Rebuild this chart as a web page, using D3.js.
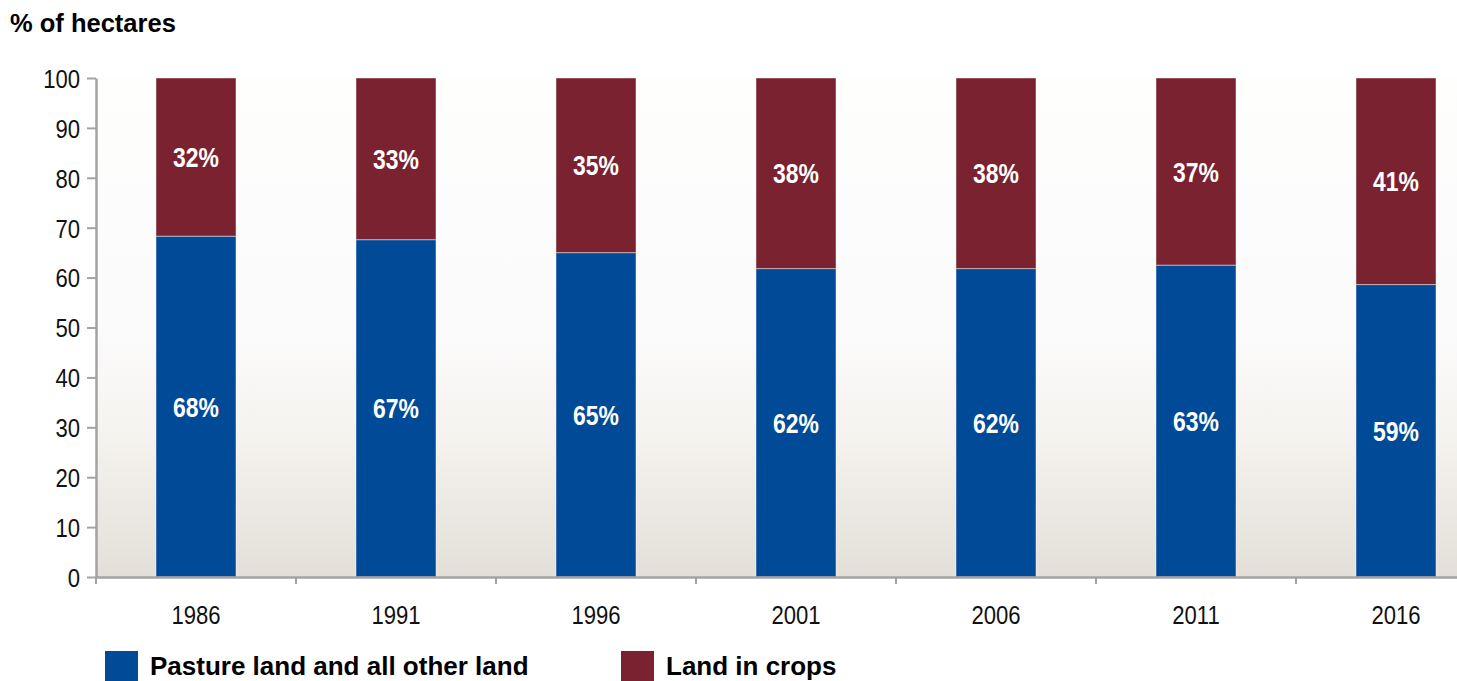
<!DOCTYPE html>
<html>
<head>
<meta charset="utf-8">
<script src="https://cdn.jsdelivr.net/npm/d3@7"></script>
<style>
  html, body { margin: 0; padding: 0; background: #ffffff; }
  svg { display: block; }
</style>
</head>
<body>
<svg id="chart" width="1457" height="681"></svg>
<script>
// ---- Data ----
const years = ["1986", "1991", "1996", "2001", "2006", "2011", "2016"];
const pasture = [68.3, 67.6, 65.0, 61.8, 61.8, 62.5, 58.6];
const crops = [31.7, 32.4, 35.0, 38.2, 38.2, 37.5, 41.4];
const pastureLabels = ["68%", "67%", "65%", "62%", "62%", "63%", "59%"];
const cropsLabels = ["32%", "33%", "35%", "38%", "38%", "37%", "41%"];
const yTicks = [0, 10, 20, 30, 40, 50, 60, 70, 80, 90, 100];
const seriesNames = ["Pasture land and all other land", "Land in crops"];

const colors = { pasture: "#004a97", crops: "#7a222f" };
const svg = d3.select("#chart");

const plotLeft = 96, plotTop = 78, plotBottom = 577, bandEnd = 1496;
const baseFont = "'Liberation Sans', Arial, sans-serif";
const sxReg = 0.85, sxBold = 0.82;   // horizontal condensing of axis / bar labels

const x = d3.scaleBand().domain(years).range([plotLeft, bandEnd]).paddingInner(0.6).paddingOuter(0.3);
const y = d3.scaleLinear().domain([0, 100]).range([plotBottom, plotTop]);

// background gradient
const defs = svg.append("defs");
const grad = defs.append("linearGradient").attr("id", "bg").attr("x1", 0).attr("y1", 0).attr("x2", 0).attr("y2", 1);
[[0, "#fefefc"], [0.5, "#fcfbfc"], [0.72, "#f5f3ef"], [1, "#e3dfd8"]].forEach(([o, c]) =>
  grad.append("stop").attr("offset", o).attr("stop-color", c));
svg.append("rect").attr("x", plotLeft).attr("y", y(100)).attr("width", 1457 - plotLeft).attr("height", y(0) - y(100)).attr("fill", "url(#bg)");

// stacked bars
const rows = years.map((yr, i) => ({ yr, p: pasture[i], c: crops[i], pl: pastureLabels[i], cl: cropsLabels[i] }));
const g = svg.append("g");
g.selectAll("rect.p").data(rows).join("rect").attr("class", "p")
  .attr("x", d => x(d.yr)).attr("width", x.bandwidth())
  .attr("y", d => y(d.p)).attr("height", d => y(0) - y(d.p))
  .attr("fill", colors.pasture).attr("stroke", "rgba(255,255,255,0.45)").attr("stroke-width", 1);
g.selectAll("rect.c").data(rows).join("rect").attr("class", "c")
  .attr("x", d => x(d.yr)).attr("width", x.bandwidth())
  .attr("y", d => y(d.p + d.c)).attr("height", d => y(d.p) - y(d.p + d.c))
  .attr("fill", colors.crops).attr("stroke", "rgba(255,255,255,0.45)").attr("stroke-width", 1);

g.selectAll("text.pl").data(rows).join("text").attr("class", "pl")
  .attr("transform", d => `translate(${x(d.yr) + x.bandwidth() / 2},${(y(0) + y(d.p)) / 2}) scale(${sxBold},1)`)
  .attr("dy", "0.36em").attr("text-anchor", "middle")
  .attr("fill", "#ffffff").attr("font-family", baseFont).attr("font-weight", "bold").attr("font-size", 28)
  .text(d => d.pl);
g.selectAll("text.cl").data(rows).join("text").attr("class", "cl")
  .attr("transform", d => `translate(${x(d.yr) + x.bandwidth() / 2},${(y(d.p) + y(d.p + d.c)) / 2}) scale(${sxBold},1)`)
  .attr("dy", "0.36em").attr("text-anchor", "middle")
  .attr("fill", "#ffffff").attr("font-family", baseFont).attr("font-weight", "bold").attr("font-size", 28)
  .text(d => d.cl);

// y axis
const axisColor = "#a3a3a3";
const yAxis = svg.append("g").attr("transform", `translate(${plotLeft},0)`)
  .call(d3.axisLeft(y).tickValues(yTicks).tickSize(9).tickPadding(7).tickSizeOuter(0));
yAxis.select(".domain").attr("stroke", axisColor).attr("stroke-width", 2.5);
yAxis.selectAll(".tick line").attr("stroke", axisColor).attr("stroke-width", 2);
yAxis.selectAll(".tick text").attr("font-family", baseFont).attr("font-size", 26).attr("fill", "#111")
  .attr("dy", "0.36em").attr("x", -16 / sxReg).attr("transform", `scale(${sxReg},1)`);

// x axis
const xAxis = svg.append("g").attr("transform", `translate(0,${plotBottom})`)
  .call(d3.axisBottom(x).tickSize(0).tickPadding(29).tickSizeOuter(0));
xAxis.select(".domain").attr("stroke", axisColor).attr("stroke-width", 2.5);
xAxis.selectAll(".tick text").attr("font-family", baseFont).attr("font-size", 26).attr("fill", "#111")
  .attr("transform", `scale(${sxReg},1)`);
const gap = (x.step() - x.bandwidth()) / 2;
xAxis.selectAll("line.sep").data(years).join("line").attr("class", "sep")
  .attr("x1", d => x(d) - gap).attr("x2", d => x(d) - gap)
  .attr("y1", 0).attr("y2", 7).attr("stroke", axisColor).attr("stroke-width", 2);

// title
svg.append("text").attr("x", 10).attr("y", 32)
  .attr("font-family", baseFont).attr("font-weight", "bold").attr("font-size", 25.5)
  .attr("fill", "#000").text("% of hectares");

// legend
const legendX = [105, 621];
const legend = svg.append("g");
seriesNames.forEach((name, i) => {
  const col = i === 0 ? colors.pasture : colors.crops;
  legend.append("rect").attr("x", legendX[i]).attr("y", 651).attr("width", 33).attr("height", 32).attr("fill", col);
  legend.append("text").attr("x", legendX[i] + 45).attr("y", 675)
    .attr("font-family", baseFont).attr("font-weight", "bold").attr("font-size", 26)
    .attr("fill", "#000").text(name);
});
</script>
</body>
</html>
